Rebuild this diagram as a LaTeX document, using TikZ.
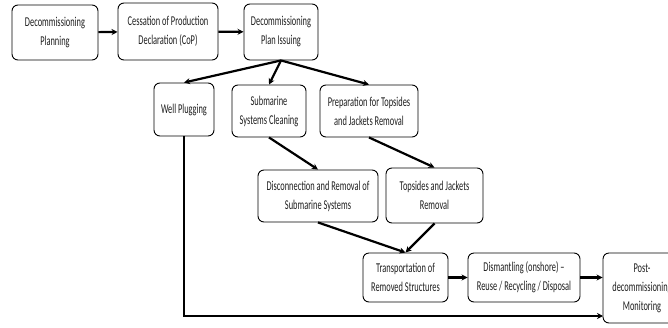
\documentclass[tikz,border=0pt]{standalone}
\usepackage{fontspec}
\setmainfont{Carlito}[FakeStretch=0.62]
\usetikzlibrary{positioning,arrows.meta}
\definecolor{dcText}{RGB}{30,30,30}

\tikzset{
  stage/.style={draw=black, line width=0.9pt, rounded corners=6pt, align=center,
    inner sep=2pt, text=dcText, font={\fontsize{13.5}{19}\selectfont}},
  flow/.style={line width=2.2pt, -{Stealth[length=6pt,width=6pt]}}
}

\begin{document}
\begin{tikzpicture}[x=1pt, y=-1pt]
  \useasboundingbox (0,0) rectangle (668,327);

  % top row
  \node[stage, minimum width=86pt, minimum height=55pt] (plan) at (55,32.5) {Decommissioning\\Planning};
  \node[stage, minimum width=100pt, minimum height=57pt] (cop) at (168,31.5) {Cessation of Production\\Declaration (CoP)};
  \node[stage, minimum width=74pt, minimum height=56pt] (issue) at (281,32) {Decommissioning\\Plan Issuing};

  % parallel works
  \node[stage, minimum width=60pt, minimum height=53pt] (well) at (184,109.5) {Well Plugging};
  \node[stage, minimum width=74pt, minimum height=52pt] (clean) at (269,111) {Submarine\\Systems Cleaning};
  \node[stage, minimum width=98pt, minimum height=52pt] (prep) at (369,111) {Preparation for Topsides\\and Jackets Removal};

  % removal
  \node[stage, minimum width=120pt, minimum height=52pt] (disc) at (318,196) {Disconnection and Removal of\\Submarine Systems};
  \node[stage, minimum width=97pt, minimum height=55pt] (tops) at (434.5,195.5) {Topsides and Jackets\\Removal};

  % onshore
  \node[stage, minimum width=85pt, minimum height=49pt] (trans) at (405.5,277.5) {Transportation of\\Removed Structures};
  \node[stage, minimum width=112pt, minimum height=49pt] (dism) at (524,277.5) {Dismantling (onshore) \textendash\\Reuse / Recycling / Disposal};
  \node[stage, minimum width=78pt, minimum height=70pt] (post) at (642,288) {Post-\\decommissioning\\Monitoring};
  \coordinate (mon in) at (603,316);

  \draw[flow] (plan) -- (cop);
  \draw[flow] (cop) -- (issue);
  \draw[flow] (issue.south) -- (well.north);
  \draw[flow] (issue.south) -- (clean.north);
  \draw[flow] (issue.south) -- (prep.north);
  \draw[flow] (clean.south) -- (disc.north);
  \draw[flow] (prep.south) -- (tops.north);
  \draw[flow] (disc.south) -- (trans.north);
  \draw[flow] (tops.south) -- (trans.north);
  \draw[flow] (trans) -- (dism);
  \draw[flow] (dism) -- (dism -| post.west);
  \draw[flow] (well.south) |- (mon in);
\end{tikzpicture}
\end{document}
